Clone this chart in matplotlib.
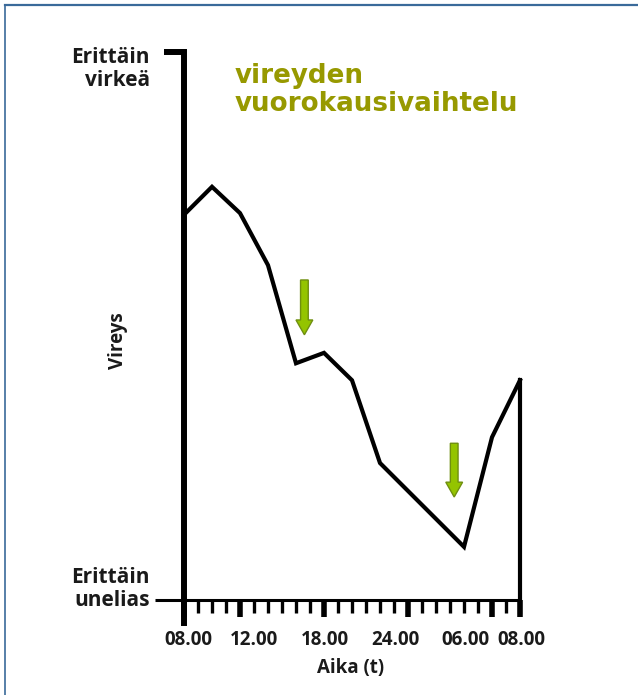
import numpy as np
import matplotlib
matplotlib.use("Agg")
import matplotlib.pyplot as plt
from matplotlib.patches import FancyArrow
from matplotlib.lines import Line2D

# hours since 08.00 and alertness (0 = very sleepy, 10 = very alert)
hours = [0, 2, 4, 6, 8, 10, 12, 14, 20, 22, 24]
alertness = [7.03, 7.54, 7.06, 6.11, 4.32, 4.51, 4.01, 2.50, 0.97, 2.97, 4.01]

major_hours = [0, 4, 10, 16, 22, 24]
label_hours = [0.3, 5.0, 10.1, 15.1, 20.1, 24.1]
tick_labels = ["08.00", "12.00", "18.00", "24.00", "06.00", "08.00"]

# dips marked with arrows: (hour, top, tip)
arrow_x = [8.6, 19.3]
arrow_top = [5.84, 2.86]
arrow_tip = [4.84, 1.88]

title = "vireyden\nvuorokausivaihtelu"
top_label = "Erittäin\nvirkeä"
bottom_label = "Erittäin\nunelias"

W, H = 638, 695
fig = plt.figure(figsize=(W / 100, H / 100), dpi=100)
ax = fig.add_axes([0, 0, 1, 1])
# 14 px per hour, 54.8 px per unit, origin at pixel (184, 600)
ax.set_xlim(-184 / 14, (W - 184) / 14)
ax.set_ylim((600 - H) / 54.8, 600 / 54.8)
ax.patch.set_visible(False)

for s in ["top", "right"]:
    ax.spines[s].set_visible(False)
ax.spines["left"].set_position(("data", 0))
ax.spines["left"].set_bounds(-0.42, 10.0)
ax.spines["left"].set_linewidth(4.3)
ax.spines["bottom"].set_position(("data", 0))
ax.spines["bottom"].set_bounds(-2.07, 24)
ax.spines["bottom"].set_linewidth(2.2)
ax.spines["bottom"].set_capstyle("butt")

ax.set_yticks([])
ax.set_xticks(major_hours)
ax.set_xticks(range(0, 25), minor=True)
ax.tick_params(axis="x", which="major", direction="out", length=12.5, width=4.0,
               labelbottom=False)
ax.tick_params(axis="x", which="minor", direction="out", length=9.5, width=2.4)

# hook at top of the y axis
ax.plot([-1.45, 0.15], [10, 10], color="black", lw=4.3, solid_capstyle="butt")

ax.plot(hours, alertness, color="black", lw=3.0, solid_joinstyle="miter")
ax.plot([hours[-1], hours[-1]], [alertness[-1], -0.22], color="black", lw=3.0)

for x, top, tip in zip(arrow_x, arrow_top, arrow_tip):
    ax.add_patch(FancyArrow(x, top, 0, tip - top, width=0.55, head_width=1.2,
                            head_length=0.27, length_includes_head=True,
                            facecolor="#94c400", edgecolor="#6f8f10", lw=1.0))

lab_font = dict(family="Open Sans", fontweight="bold", fontsize=13.5, color="#1a1a1a")
for x, t in zip(label_hours, tick_labels):
    ax.text(x, -0.73, t, ha="center", va="center", **lab_font)
ax.text(11.9, -1.24, "Aika (t)", ha="center", va="center", **lab_font)

side_font = dict(family="Open Sans", fontweight="bold", fontsize=15, color="#1a1a1a",
                 linespacing=1.1)
ax.text(-2.43, 9.69, top_label, ha="right", va="center", **side_font)
ax.text(-2.43, 0.2, bottom_label, ha="right", va="center", **side_font)
ax.text(-4.71, 4.74, "Vireys", ha="center", va="center", rotation=90,
        family="Open Sans", fontweight="bold", fontsize=13.5, color="#1a1a1a")

ax.text(3.64, 9.8, title, ha="left", va="top", color="#979900",
        family="DejaVu Sans", fontweight="bold", fontsize=18.8, linespacing=1.12)

# blue frame along the top and left edges
fig.add_artist(Line2D([5 / W, 1], [1 - 5 / H, 1 - 5 / H], color="#3a6a9a", lw=1.6))
fig.add_artist(Line2D([5 / W, 5 / W], [0, 1 - 5 / H], color="#3a6a9a", lw=1.2))

fig.savefig("out.png", dpi=100)
